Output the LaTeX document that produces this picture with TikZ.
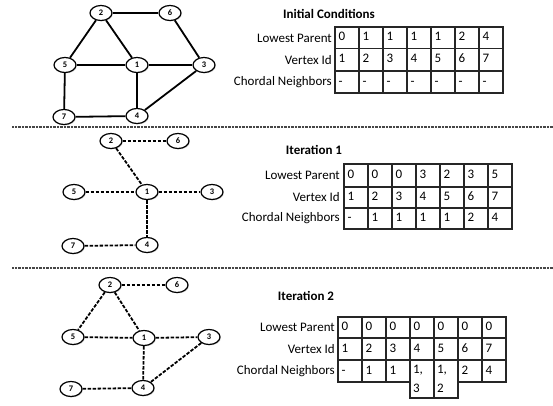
\documentclass[tikz,border=0pt]{standalone}
\usepackage{fontspec}
\setmainfont{Carlito}
\usetikzlibrary{shapes.geometric,shadows}
\newcommand\celltxt[1]{\makebox[17pt][l]{#1}}
\begin{document}
\begin{tikzpicture}[x=1pt,y=-1pt,
  vtx/.style={ellipse, draw, line width=1.2pt, fill=white, minimum width=22pt, minimum height=15pt, inner sep=0pt,
    font=\bfseries\fontsize{8.5}{9}\selectfont, drop shadow={opacity=0.3, shadow xshift=0.9pt, shadow yshift=-0.9pt}},
  solidedge/.style={line width=1.8pt},
  dashedge/.style={line width=1.8pt, dash pattern=on 3.5pt off 1.5pt},
  cell/.style={draw=black!85, line width=1.2pt, anchor=north west, minimum width=24pt, minimum height=21pt,
    inner sep=0pt, outer sep=0pt, text height=9pt, text depth=2.5pt, font=\fontsize{13}{19}\selectfont},
  tallcell/.style={draw=black!85, line width=1.2pt, anchor=north west, text width=18pt, inner xsep=3pt, inner ysep=0pt,
    outer sep=0pt, align=left, font=\fontsize{13}{19}\selectfont},
  rowlabel/.style={anchor=east, font=\fontsize{13}{14}\selectfont, inner sep=1pt},
  ttl/.style={font=\bfseries\fontsize{13}{15}\selectfont},
  sep/.style={gray!55!black, line width=1.1pt, dash pattern=on 0.6pt off 0.8pt}
]
\useasboundingbox (0,0) rectangle (553,406);

% separators
\coordinate (s1a) at (12,127); \coordinate (s1b) at (553,127);
\coordinate (s2a) at (12,268); \coordinate (s2b) at (553,268);
\draw[sep] (s1a) -- (s1b);
\draw[sep] (s2a) -- (s2b);

% ---------- Panel 1 ----------
\node[vtx] (a2) at (101,13) {2};
\node[vtx] (a6) at (170,13) {6};
\node[vtx] (a5) at (65,65) {5};
\node[vtx] (a1) at (137,65) {1};
\node[vtx] (a3) at (204,65) {3};
\node[vtx] (a7) at (64,117) {7};
\node[vtx] (a4) at (137,116) {4};
\draw[solidedge] (a2) -- (a6);
\draw[solidedge] (a2) -- (a5);
\draw[solidedge] (a2) -- (a1);
\draw[solidedge] (a6) -- (a3);
\draw[solidedge] (a5) -- (a1);
\draw[solidedge] (a1) -- (a3);
\draw[solidedge] (a5) -- (a7);
\draw[solidedge] (a1) -- (a4);
\draw[solidedge] (a3) -- (a4);
\draw[solidedge] (a7) -- (a4);

\node[ttl] (t1) at (329,14) {Initial Conditions};
\node[rowlabel] (l1a) at (333,38) {Lowest Parent};
\node[rowlabel] (l1b) at (333,60) {Vertex Id};
\node[rowlabel] (l1c) at (333,82) {Chordal Neighbors};
\foreach \v [count=\i from 0] in {0,1,1,1,1,2,4}
  \node[cell, minimum height=21.5pt] (p1r\i) at ({335+24*\i},27) {\celltxt{\v}};
\foreach \v [count=\i from 0] in {1,2,3,4,5,6,7}
  \node[cell, minimum height=22.5pt] (p1v\i) at ({335+24*\i},48.5) {\celltxt{\v}};
\foreach \v [count=\i from 0] in {-,-,-,-,-,-,-}
  \node[cell, minimum height=22pt] (p1c\i) at ({335+24*\i},71) {\celltxt{\v}};

% ---------- Panel 2 ----------
\node[vtx] (b2) at (111,141) {2};
\node[vtx] (b6) at (178,141) {6};
\node[vtx] (b5) at (74,192) {5};
\node[vtx] (b1) at (147,192) {1};
\node[vtx] (b3) at (212,192) {3};
\node[vtx] (b7) at (73,246) {7};
\node[vtx] (b4) at (147,245) {4};
\draw[dashedge] (b2) -- (b6);
\draw[dashedge] (b2) -- (b1);
\draw[dashedge] (b5) -- (b1);
\draw[dashedge] (b1) -- (b3);
\draw[dashedge] (b1) -- (b4);
\draw[dashedge] (b7) -- (b4);

\node[ttl] (t2) at (314,150) {Iteration 1};
\node[rowlabel] (l2a) at (341,175) {Lowest Parent};
\node[rowlabel] (l2b) at (341,197) {Vertex Id};
\node[rowlabel] (l2c) at (341,218) {Chordal Neighbors};
\foreach \v [count=\i from 0] in {0,0,0,3,2,3,5}
  \node[cell, minimum height=23pt] (p2r\i) at ({344+24*\i},164) {\celltxt{\v}};
\foreach \v [count=\i from 0] in {1,2,3,4,5,6,7}
  \node[cell, minimum height=21pt] (p2v\i) at ({344+24*\i},187) {\celltxt{\v}};
\foreach \v [count=\i from 0] in {-,1,1,1,1,2,4}
  \node[cell, minimum height=21pt] (p2c\i) at ({344+24*\i},208) {\celltxt{\v}};

% ---------- Panel 3 ----------
\node[vtx] (c2) at (110,285) {2};
\node[vtx] (c6) at (177,285) {6};
\node[vtx] (c5) at (73,337) {5};
\node[vtx] (c1) at (144,338) {1};
\node[vtx] (c3) at (209,337) {3};
\node[vtx] (c7) at (71,389) {7};
\node[vtx] (c4) at (143,388) {4};
\draw[dashedge] (c2) -- (c6);
\draw[dashedge] (c2) -- (c5);
\draw[dashedge] (c2) -- (c1);
\draw[dashedge] (c5) -- (c1);
\draw[dashedge] (c1) -- (c3);
\draw[dashedge] (c1) -- (c4);
\draw[dashedge] (c3) -- (c4);
\draw[dashedge] (c7) -- (c4);

\node[ttl] (t3) at (306,296) {Iteration 2};
\node[rowlabel] (l3a) at (336,327) {Lowest Parent};
\node[rowlabel] (l3b) at (336,349) {Vertex Id};
\node[rowlabel] (l3c) at (336,371) {Chordal Neighbors};
\foreach \v [count=\i from 0] in {0,0,0,0,0,0,0}
  \node[cell, minimum height=21pt] (p3r\i) at ({338+24*\i},317) {\celltxt{\v}};
\foreach \v [count=\i from 0] in {1,2,3,4,5,6,7}
  \node[cell, minimum height=22pt] (p3v\i) at ({338+24*\i},338) {\celltxt{\v}};
\node[cell, minimum height=22pt] (p3c0) at (338,360) {\celltxt{-}};
\node[cell, minimum height=22pt] (p3c1) at (362,360) {\celltxt{1}};
\node[cell, minimum height=22pt] (p3c2) at (386,360) {\celltxt{1}};
\node[tallcell, minimum height=38pt] (p3c3) at (410,360) {1,\\3};
\node[tallcell, minimum height=38pt] (p3c4) at (434,360) {1,\\2};
\node[cell, minimum height=22pt] (p3c5) at (458,360) {\celltxt{2}};
\node[cell, minimum height=22pt] (p3c6) at (482,360) {\celltxt{4}};
\end{tikzpicture}
\end{document}
